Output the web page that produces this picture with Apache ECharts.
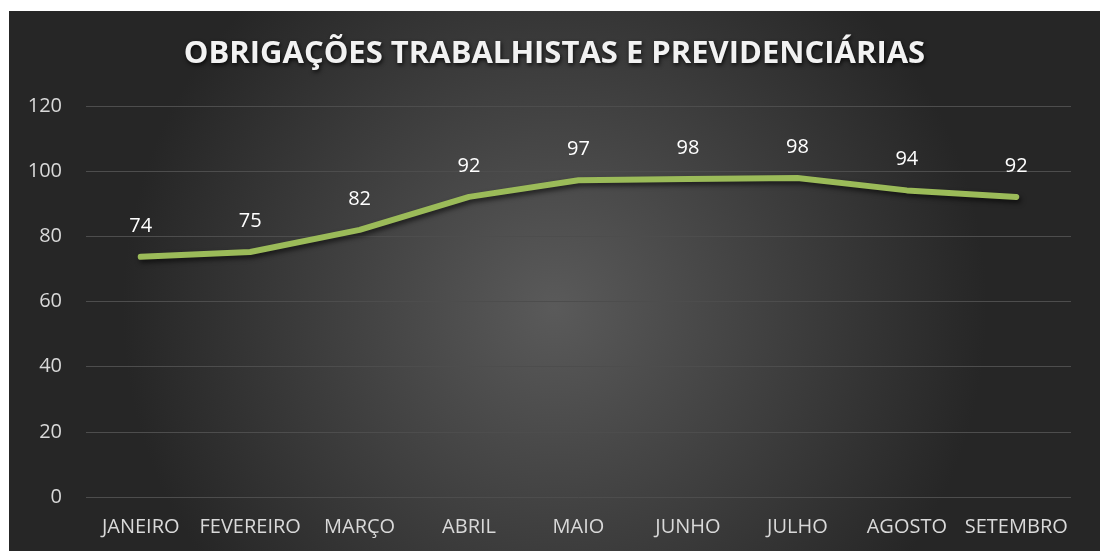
<!DOCTYPE html>
<html>
<head>
<meta charset="utf-8">
<script src="https://cdn.jsdelivr.net/npm/echarts@6/dist/echarts.min.js"></script>
<style>
  html, body { margin: 0; padding: 0; background: #fff; }
  #chart { position: absolute; left: 9px; top: 11px; width: 1091px; height: 540px; }
</style>
</head>
<body>
<div id="chart"></div>
<script>
const TITLE = 'OBRIGAÇÕES TRABALHISTAS E PREVIDENCIÁRIAS';
const months = ['JANEIRO', 'FEVEREIRO', 'MARÇO', 'ABRIL', 'MAIO', 'JUNHO', 'JULHO', 'AGOSTO', 'SETEMBRO'];
const values = [73.7, 75.2, 82.0, 92.1, 97.2, 97.6, 97.9, 94.1, 92.1];

const chart = echarts.init(document.getElementById('chart'));

chart.setOption({
  backgroundColor: {
    type: 'radial', x: 0.5, y: 0.55, r: 0.8,
    colorStops: [
      { offset: 0, color: '#5a5a5a' },
      { offset: 0.5, color: '#404040' },
      { offset: 1, color: '#262626' }
    ]
  },
  title: {
    text: TITLE,
    left: 'center',
    top: 23,
    textStyle: {
      color: '#f2f2f2',
      fontFamily: 'Open Sans',
      fontWeight: 'bold',
      fontSize: 31,
      textShadowColor: 'rgba(0,0,0,0.8)',
      textShadowBlur: 4,
      textShadowOffsetX: 1,
      textShadowOffsetY: 2
    }
  },
  grid: { left: 77, right: 29, top: 95, bottom: 54 },
  xAxis: {
    type: 'category',
    data: months,
    axisLine: { show: false },
    axisTick: { show: false },
    axisLabel: { color: '#d9d9d9', fontFamily: 'Open Sans', fontSize: 20, margin: 20, interval: 0 }
  },
  yAxis: {
    type: 'value',
    min: 0, max: 120, interval: 20,
    axisLabel: { color: '#d9d9d9', fontFamily: 'Open Sans', fontSize: 20, margin: 24 },
    splitLine: { lineStyle: { color: '#4d4d4d', width: 1 } }
  },
  series: [{
    type: 'line',
    data: values,
    symbol: 'circle',
    symbolSize: 2,
    showSymbol: true,
    itemStyle: { color: 'rgba(0,0,0,0)', borderWidth: 0 },
    lineStyle: {
      color: '#9bbb59', width: 6, cap: 'round', join: 'round',
      shadowColor: 'rgba(0,0,0,0.6)', shadowBlur: 5, shadowOffsetX: 2, shadowOffsetY: 3
    },
    label: {
      show: true,
      position: 'top',
      distance: 20,
      color: '#ffffff',
      fontFamily: 'Open Sans',
      fontSize: 20,
      formatter: p => String(Math.round(p.value))
    }
  }]
});
</script>
</body>
</html>
